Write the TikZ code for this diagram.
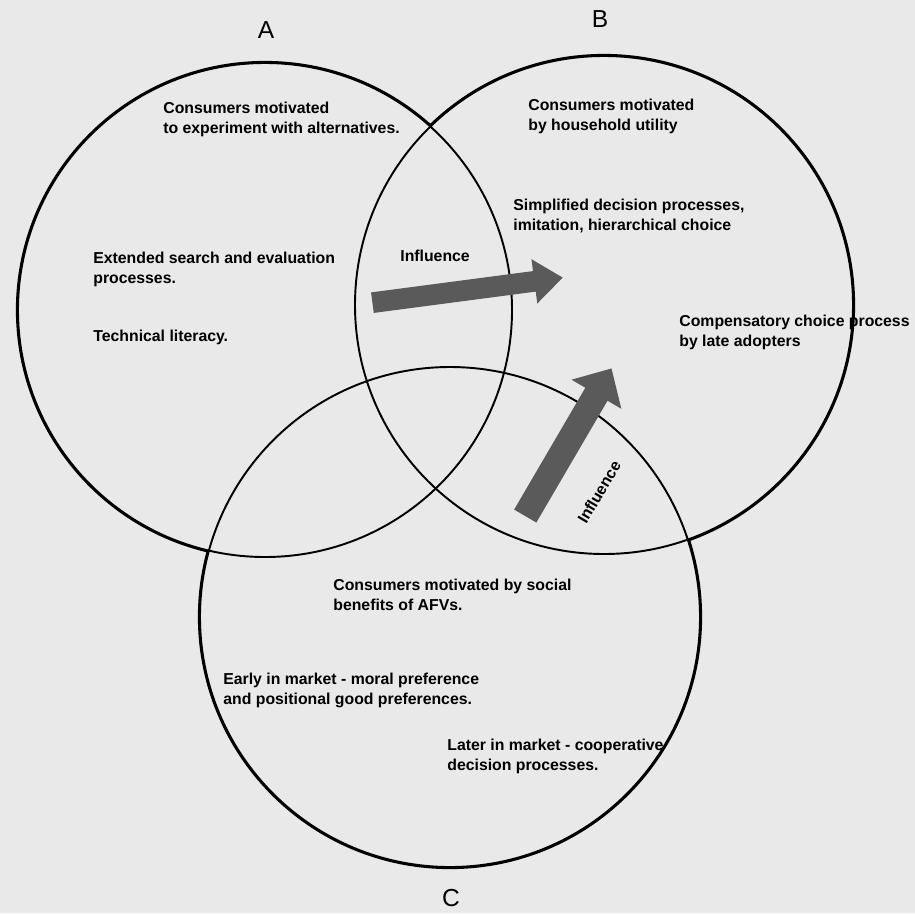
\documentclass[tikz,border=0pt]{standalone}
\usepackage{fontspec}
\setsansfont{Liberation Sans}
\usepackage{xcolor}
\definecolor{vennPaper}{HTML}{E9E9E9}
\definecolor{vennArrow}{HTML}{5A5A5A}
\usetikzlibrary{shapes.arrows}

\begin{document}
\begin{tikzpicture}[x=0.02cm, y=-0.02cm,
  rim/.style={draw=black, line width=2.4pt},
  edge/.style={draw=black, line width=1.1pt},
  note/.style={font=\sffamily\bfseries\fontsize{9}{11.4}\selectfont, align=left, anchor=north west, inner sep=0pt},
  setname/.style={font=\sffamily\fontsize{14}{16}\selectfont, inner sep=0pt},
  push/.style={single arrow, fill=vennArrow, draw=none, inner xsep=0pt}]
  \useasboundingbox (0,0) rectangle (915,913);
  \fill[vennPaper] (0,0) rectangle (915,913);
  % the three sets
  \coordinate (A) at (265,310);
  \coordinate (B) at (604,305);
  \coordinate (C) at (450,617);
  \foreach \s/\r in {A/247,B/249,C/250}
    \draw[rim] (\s) circle[radius=\r];
  \foreach \s/\r in {A/247,B/249,C/250}
    \fill[vennPaper] (\s) circle[radius=\r];
  \foreach \s/\r in {A/247,B/249,C/250}
    \draw[edge] (\s) circle[radius=\r];
  \node[setname] (labA) at (266,30) {A};
  \node[setname] (labB) at (600,19) {B};
  \node[setname] (labC) at (451,898) {C};
  % influence arrows
  \node[push, rotate=7.5, inner ysep=0.2cm, minimum height=3.84cm,
        single arrow head extend=0.24cm, single arrow tip angle=76] (inflAB) at (461,291) {};
  \node[push, rotate=59.7, inner ysep=0.25cm, minimum height=3.42cm,
        single arrow head extend=0.32cm, single arrow tip angle=88] (inflCB) at (565,448) {};
  % texts
  \node[note] (expA) at (163,102) {Consumers motivated\\to experiment with alternatives.};
  \node[note] (utilB) at (528,99) {Consumers motivated\\by household utility};
  \node[note] (simpB) at (513,199) {Simplified decision processes,\\imitation, hierarchical choice};
  \node[note] (searchA) at (93,252) {Extended search and evaluation\\processes.};
  \node[note] (techA) at (93,330) {Technical literacy.};
  \node[note] (inflTop) at (400,250) {Influence};
  \node[note] (compB) at (679,315) {Compensatory choice process\\by late adopters};
  \node[note] (socC) at (333,579) {Consumers motivated by social\\benefits of AFVs.};
  \node[note] (earlyC) at (223,673) {Early in market - moral preference\\and positional good preferences.};
  \node[note] (laterC) at (447,739) {Later in market - cooperative\\decision processes.};
  \node[note, anchor=center, rotate=59.5] (inflSide) at (599,492) {Influence};
\end{tikzpicture}
\end{document}
